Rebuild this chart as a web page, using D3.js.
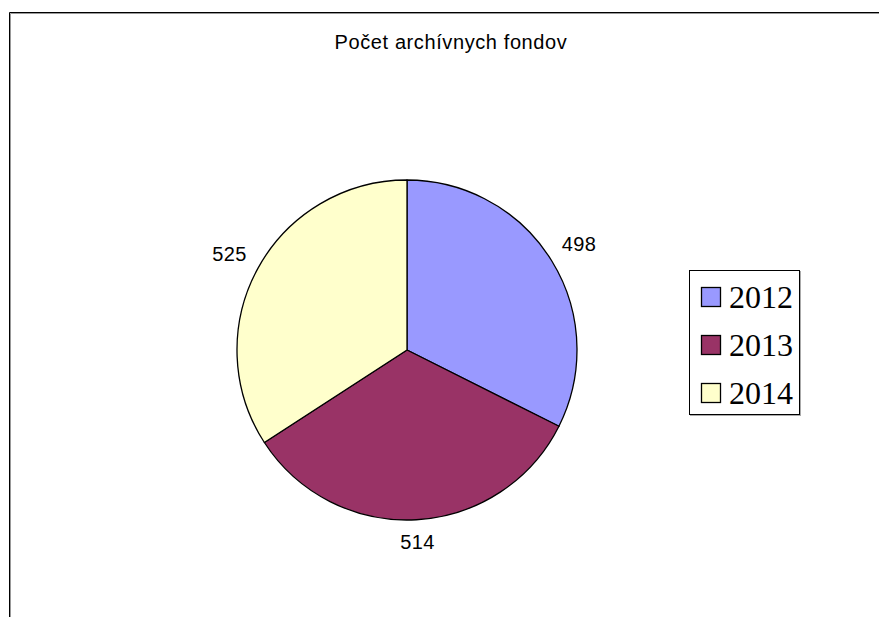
<!DOCTYPE html>
<html>
<head>
<meta charset="utf-8">
<script src="https://cdn.jsdelivr.net/npm/d3@7"></script>
<style>
  body { margin: 0; background: #fff; }
  svg { display: block; }
</style>
</head>
<body>
<svg></svg>
<script>
//Chart data
let years = ['2012', '2013', '2014'];
let counts = [498, 514, 525];
let colors = ['#9999FF', '#993366', '#FFFFCC'];
let title = 'Počet archívnych fondov';

//Canvas Dimension
let canvasDimension = {
    width: 879,
    height: 617,
};

let center = { x: 407, y: 350 };
let radius = 170;

let svg = d3.select('svg')
            .attr('width', canvasDimension.width)
            .attr('height', canvasDimension.height);

//Frame (top and left edges of the chart area)
function drawFrame(){
    svg.append('path')
       .attr('d', 'M10.5,' + canvasDimension.height + 'V13.5H' + canvasDimension.width)
       .attr('fill', 'none')
       .attr('stroke', '#999');
    svg.append('path')
       .attr('d', 'M9.5,' + canvasDimension.height + 'V12.5H' + canvasDimension.width)
       .attr('fill', 'none')
       .attr('stroke', '#000');
}

//Title
function drawTitle(){
    svg.append('text')
       .attr('x', 451)
       .attr('y', 49)
       .attr('text-anchor', 'middle')
       .style('font-family', 'Liberation Sans, Arial, sans-serif')
       .style('font-size', '20px')
       .style('letter-spacing', '0.6px')
       .text(title);
}

//Pie
function drawPie(){
    let data = years.map((y, i) => ({ year: y, value: counts[i] }));
    let color = d3.scaleOrdinal().domain(years).range(colors);

    let pie = d3.pie()
                .sort(null)
                .value((d) => d.value);
    let arc = d3.arc().innerRadius(0).outerRadius(radius);

    let g = svg.append('g')
               .attr('transform', 'translate(' + center.x + ',' + center.y + ')');

    let arcs = pie(data);

    g.selectAll('path')
     .data(arcs)
     .enter()
     .append('path')
     .attr('d', arc)
     .attr('fill', (d) => color(d.data.year))
     .attr('stroke', '#000')
     .attr('stroke-width', 1.3)
     .attr('stroke-linejoin', 'round');

    //Data labels outside the pie, box kept a fixed gap from the rim
    let halfW = 18, halfH = 9, gap = 12;
    let labelPos = (d) => {
        let a = (d.startAngle + d.endAngle) / 2;
        let r = radius + gap + halfW * Math.abs(Math.sin(a)) + halfH * Math.abs(Math.cos(a));
        return [r * Math.sin(a), -r * Math.cos(a)];
    };

    g.selectAll('text.label')
     .data(arcs)
     .enter()
     .append('text')
     .attr('class', 'label')
     .attr('x', (d) => labelPos(d)[0])
     .attr('y', (d) => labelPos(d)[1])
     .attr('text-anchor', 'middle')
     .attr('dy', '0.36em')
     .style('font-family', 'Liberation Sans, Arial, sans-serif')
     .style('font-size', '20px')
     .style('letter-spacing', '0.4px')
     .text((d) => d.data.value);
}

//Legend
function drawLegend(){
    let legend = svg.append('g')
                    .attr('transform', 'translate(689, 270)');

    legend.append('rect')
          .attr('x', 1.5)
          .attr('y', 1.5)
          .attr('width', 110)
          .attr('height', 144)
          .attr('fill', 'none')
          .attr('stroke', '#aaa');
    legend.append('rect')
          .attr('x', 0.5)
          .attr('y', 0.5)
          .attr('width', 110)
          .attr('height', 144)
          .attr('fill', '#fff')
          .attr('stroke', '#000');

    let rowY = d3.scalePoint()
                 .domain(years)
                 .range([27, 123]);

    let items = legend.selectAll('g.item')
                      .data(years)
                      .enter()
                      .append('g')
                      .attr('class', 'item')
                      .attr('transform', (d) => 'translate(0,' + rowY(d) + ')');

    items.append('rect')
         .attr('x', 12.5)
         .attr('y', -9.5)
         .attr('width', 19)
         .attr('height', 19)
         .attr('fill', (d, i) => colors[i])
         .attr('stroke', '#000')
         .attr('stroke-width', 1.3);

    items.append('text')
         .attr('x', 40)
         .attr('y', 11)
         .style('font-family', 'Liberation Serif, Times New Roman, serif')
         .style('font-size', '32px')
         .text((d) => d);
}

drawFrame();
drawTitle();
drawPie();
drawLegend();
</script>
</body>
</html>
